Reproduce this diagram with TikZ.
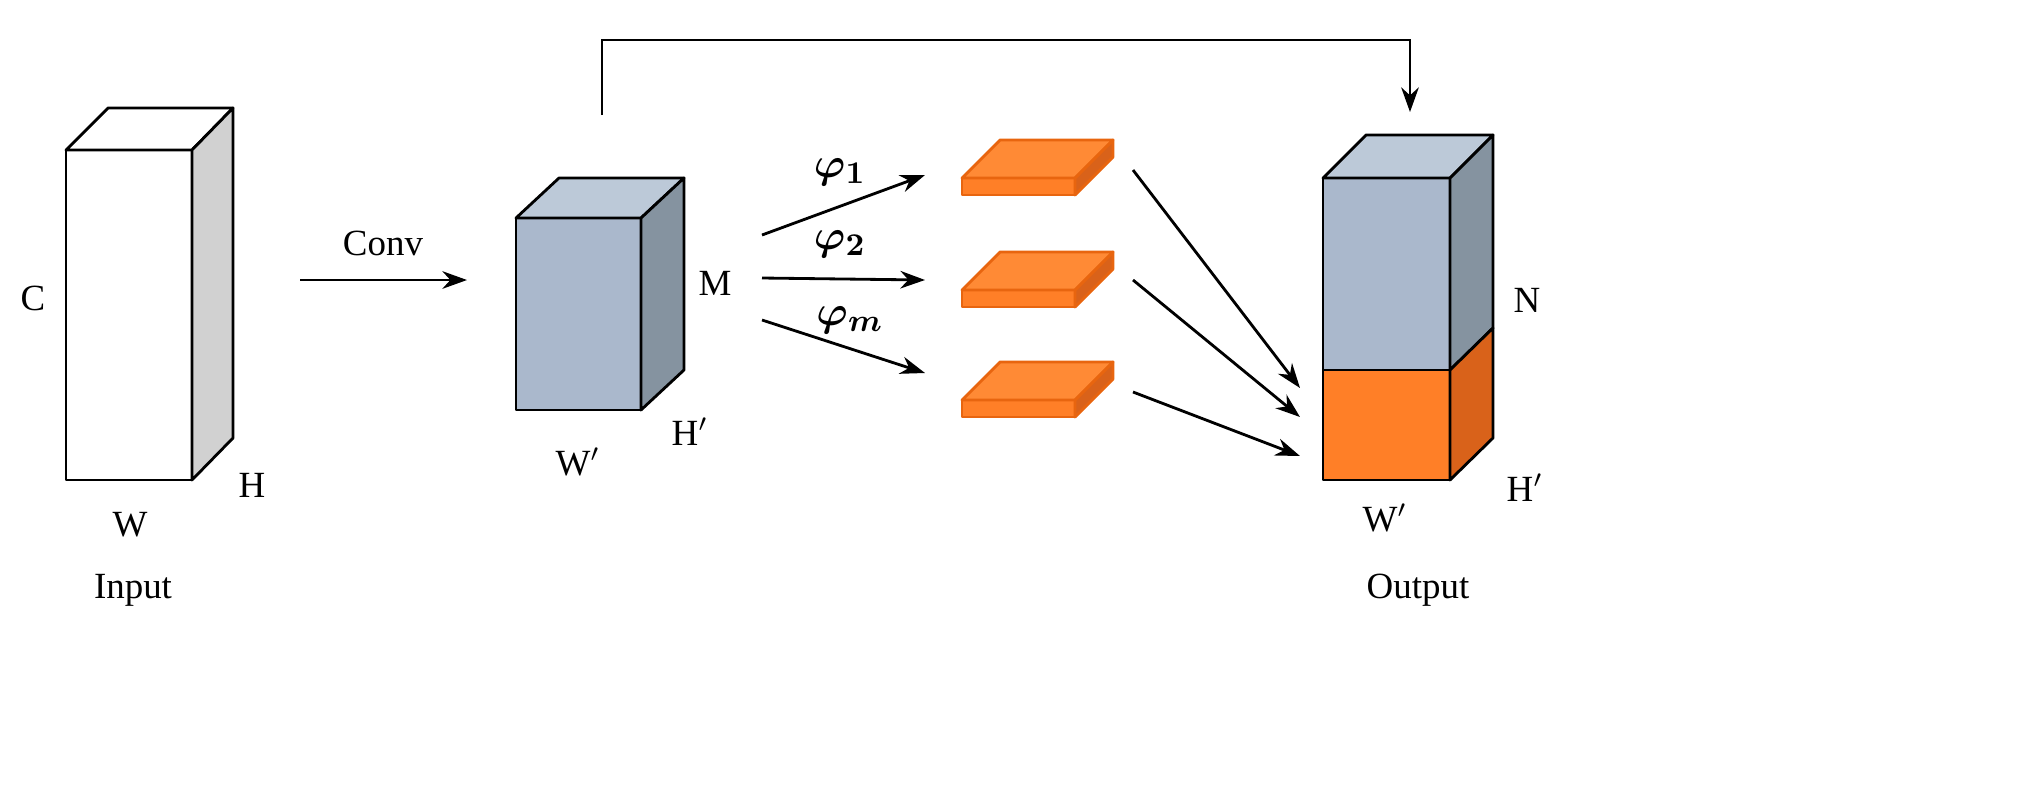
\documentclass[tikz,border=0pt]{standalone}
\usepackage{bm}
\usepackage{fontspec}
\setmainfont{Liberation Serif}
\usetikzlibrary{arrows.meta}
\definecolor{bfront}{HTML}{AAB8CC}
\definecolor{bside}{HTML}{8593A0}
\definecolor{btop}{HTML}{BCC9D8}
\definecolor{ofront}{HTML}{FF7F27}
\definecolor{oside}{HTML}{D9621A}
\definecolor{otop}{HTML}{FF8A35}
\definecolor{ostroke}{HTML}{E8650F}
\begin{document}
\begin{tikzpicture}[x=0.01cm,y=-0.01cm,
  lbl/.style={font=\fontsize{10.5}{12}\selectfont,inner sep=0pt},
  phl/.style={font=\fontsize{13}{14}\selectfont,inner sep=0pt},
  arr/.style={-{Stealth[length=7pt,width=5pt]},line width=0.8pt},
  edge/.style={draw=black,line width=0.8pt,line join=round},
  oedge/.style={draw=ostroke,line width=0.8pt,line join=round}]
\useasboundingbox (0,0) rectangle (2044,811);
% input
\draw[edge,fill=white] (66,150) rectangle (192,480);
\draw[edge,fill=white] (66,150) -- (108,108) -- (233,108) -- (192,150) -- cycle;
\draw[edge,fill=black!18] (192,150) -- (233,108) -- (233,438) -- (192,480) -- cycle;
\node[lbl] (c) at (33,298) {C};
\node[lbl] (w) at (130,525) {W};
\node[lbl] (h) at (252,485) {H};
\node[lbl] (in) at (133,590) {Input};
% conv
\coordinate (cs) at (300,280); \coordinate (ce) at (467,280);
\draw[arr] (cs) -- (ce);
\node[lbl] (conv) at (383,243) {Conv};
% middle
\draw[edge,fill=bfront] (516,218) rectangle (641,410);
\draw[edge,fill=btop] (516,218) -- (559,178) -- (684,178) -- (641,218) -- cycle;
\draw[edge,fill=bside] (641,218) -- (684,178) -- (684,370) -- (641,410) -- cycle;
\node[lbl] (m) at (715,283) {M};
\node[lbl] (hp) at (690,432) {H$'$};
\node[lbl] (wp) at (578,462) {W$'$};
% skip
\coordinate (s0) at (602,115); \coordinate (s1) at (602,40); \coordinate (s2) at (1410,40); \coordinate (s3) at (1410,112);
\draw[arr] (s0) -- (s1) -- (s2) -- (s3);
% slabs
\foreach \y/\n in {178/a,290/b,400/c}{
  \fill[ofront] (962,\y) rectangle (1075,\y+17);
  \draw[oedge,fill=otop] (962,\y) -- (1000,\y-38) -- (1113,\y-38) -- (1075,\y) -- cycle;
  \draw[oedge,fill=oside] (1075,\y) -- (1113,\y-38) -- (1113,\y-21) -- (1075,\y+17) -- cycle;
  \draw[oedge] (962,\y) rectangle (1075,\y+17);
  \coordinate (sl\n) at (1018,\y);
}
\coordinate (p1s) at (762,235); \coordinate (p1e) at (925,175);
\coordinate (p2s) at (762,278); \coordinate (p2e) at (925,280);
\coordinate (p3s) at (762,320); \coordinate (p3e) at (925,373);
\draw[arr] (p1s) -- (p1e); \draw[arr] (p2s) -- (p2e); \draw[arr] (p3s) -- (p3e);
\node[phl] (f1) at (840,172) {$\bm{\varphi_1}$};
\node[phl] (f2) at (840,244) {$\bm{\varphi_2}$};
\node[phl] (fm) at (850,320) {$\bm{\varphi_m}$};
% output
\draw[edge,fill=bfront] (1323,178) rectangle (1450,370);
\draw[edge,fill=ofront] (1323,370) rectangle (1450,480);
\draw[edge,fill=btop] (1323,178) -- (1366,135) -- (1493,135) -- (1450,178) -- cycle;
\draw[edge,fill=bside] (1450,178) -- (1493,135) -- (1493,328) -- (1450,370) -- cycle;
\draw[edge,fill=oside] (1450,370) -- (1493,328) -- (1493,438) -- (1450,480) -- cycle;
\node[lbl] (n) at (1527,300) {N};
\node[lbl] (oh) at (1525,488) {H$'$};
\node[lbl] (ow) at (1385,518) {W$'$};
\node[lbl] (out) at (1418,590) {Output};
\coordinate (q1s) at (1133,170); \coordinate (q1e) at (1300,388);
\coordinate (q2s) at (1133,280); \coordinate (q2e) at (1300,417);
\coordinate (q3s) at (1133,392); \coordinate (q3e) at (1300,456);
\draw[arr] (q1s) -- (q1e); \draw[arr] (q2s) -- (q2e); \draw[arr] (q3s) -- (q3e);
\end{tikzpicture}
\end{document}
